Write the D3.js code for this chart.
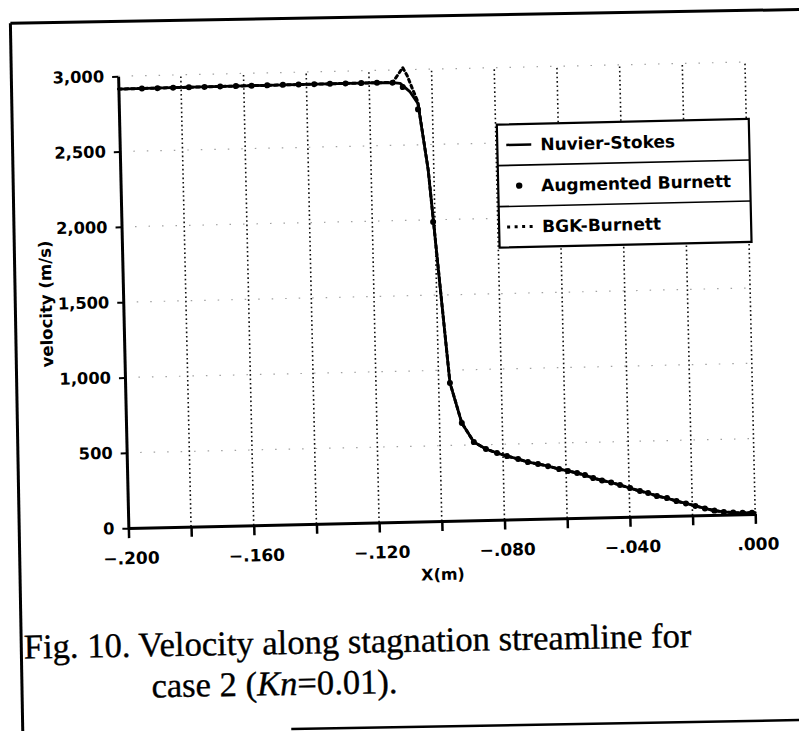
<!DOCTYPE html>
<html>
<head>
<meta charset="utf-8">
<script src="https://cdn.jsdelivr.net/npm/d3@7"></script>
<style>
  html, body { margin: 0; padding: 0; background: #fff; }
  svg { display: block; }
</style>
</head>
<body>
<svg id="chart" width="799" height="731"></svg>
<script>
// ---------------- data ----------------
const xTickValues = [-0.2, -0.18, -0.16, -0.14, -0.12, -0.1, -0.08, -0.06, -0.04, -0.02, 0];
const xTickLabels = ["−.200", "", "−.160", "", "−.120", "", "−.080", "", "−.040", "", ".000"];
const yTickValues = [0, 500, 1000, 1500, 2000, 2500, 3000];
const yTickLabels = ["0", "500", "1,000", "1,500", "2,000", "2,500", "3,000"];

const seriesNames = ["Nuvier-Stokes", "Augmented Burnett", "BGK-Burnett"];
const xLabel = "X(m)";
const yLabel = "velocity (m/s)";
const captionLine1 = "Fig. 10. Velocity along stagnation streamline for";
const captionLine2a = "case 2 (";
const captionLine2b = "Kn";
const captionLine2c = "=0.01).";

// Navier-Stokes (solid line)
const xNS = [-0.2, -0.18, -0.16, -0.14, -0.12, -0.1125, -0.1101, -0.107, -0.1046, -0.1018, -0.0964,
  -0.0929, -0.0892, -0.0854, -0.0819, -0.0787, -0.0752, -0.0721, -0.0689, -0.0657, -0.0622,
  -0.0594, -0.0565, -0.054, -0.0514, -0.0486, -0.0457, -0.0429, -0.0397, -0.0366, -0.034,
  -0.0312, -0.028, -0.025, -0.022, -0.019, -0.016, -0.013, -0.01, -0.007, -0.004, 0];
const vNS = [2915, 2916, 2917, 2918, 2918, 2916, 2910, 2852, 2775, 2332, 915,
  647, 519, 471, 443, 421, 400, 378, 364, 348, 327,
  313, 298, 283, 262, 245, 230, 212, 190, 169, 155,
  133, 118, 97, 80, 62, 44, 28, 18, 12, 9, 8];

// Augmented Burnett (markers)
const xAB = [-0.1925, -0.1875, -0.1825, -0.1775, -0.1725, -0.1675, -0.1625, -0.1575, -0.1525,
  -0.1475, -0.1425, -0.1375, -0.1325, -0.1275, -0.1225, -0.1175, -0.1125,
  -0.1093, -0.1046, -0.1006, -0.0964, -0.0929, -0.0892, -0.0854, -0.0819, -0.0787, -0.0752,
  -0.0721, -0.0689, -0.0657, -0.0622, -0.0594, -0.0565, -0.054, -0.0514, -0.0486, -0.0457,
  -0.0429, -0.0397, -0.0366, -0.034, -0.0312, -0.028, -0.025, -0.022, -0.019, -0.016,
  -0.013, -0.01, -0.007, -0.004, -0.001];
const vAB = [2915, 2915, 2916, 2916, 2916, 2917, 2917, 2917, 2917,
  2918, 2918, 2918, 2918, 2918, 2918, 2918, 2916,
  2885, 2735, 1986, 915, 647, 519, 471, 443, 421, 400,
  378, 364, 348, 327, 313, 298, 283, 262, 245, 230,
  212, 190, 169, 155, 133, 118, 97, 80, 62, 44,
  28, 18, 12, 9, 8];

// BGK-Burnett (dotted line)
const xBGK = [-0.2, -0.18, -0.16, -0.14, -0.12, -0.1125, -0.1105, -0.1092, -0.1078, -0.1062, -0.1046,
  -0.1018, -0.0964, -0.0929, -0.0892, -0.0854, -0.0819, -0.0787, -0.0752, -0.0721, -0.0689,
  -0.0657, -0.0622, -0.0594, -0.0565, -0.054, -0.0514, -0.0486, -0.0457, -0.0429, -0.0397,
  -0.0366, -0.034, -0.0312, -0.028, -0.025, -0.022, -0.019, -0.016, -0.013, -0.01, -0.007, -0.004, 0];
const vBGK = [2915, 2916, 2917, 2918, 2918, 2918, 2975, 3015, 2960, 2870, 2785,
  2335, 918, 647, 519, 471, 443, 421, 400, 378, 364,
  348, 327, 313, 298, 283, 262, 245, 230, 212, 190,
  169, 155, 133, 118, 97, 80, 62, 44, 28, 18, 12, 9, 8];

// ---------------- drawing ----------------
const svg = d3.select("#chart");
const tickFont = "'DejaVu Sans', 'Liberation Sans', sans-serif";

// outer frame + caption (scanned page slightly tilted)
const page = svg.append("g").attr("transform", "rotate(-1.0,400,370)");
page.append("line").attr("x1", 16.5).attr("y1", 16.5).attr("x2", 840).attr("y2", 16.5)
  .attr("stroke", "#000").attr("stroke-width", 3);
page.append("line").attr("x1", 16.5).attr("y1", 16.5).attr("x2", 16.5).attr("y2", 760)
  .attr("stroke", "#000").attr("stroke-width", 3);
page.append("line").attr("x1", 285).attr("y1", 727).attr("x2", 840).attr("y2", 727)
  .attr("stroke", "#000").attr("stroke-width", 2.5);

const capFont = "'Liberation Serif', 'Times New Roman', serif";
page.append("text").attr("x", 19).attr("y", 652)
  .attr("font-family", capFont).attr("font-size", 34.6).attr("fill", "#000")
  .attr("stroke", "#000").attr("stroke-width", 0.35)
  .text(captionLine1);
const cap2 = page.append("text").attr("x", 146).attr("y", 693)
  .attr("font-family", capFont).attr("font-size", 34.6).attr("fill", "#000")
  .attr("stroke", "#000").attr("stroke-width", 0.35);
cap2.append("tspan").text(captionLine2a);
cap2.append("tspan").attr("font-style", "italic").text(captionLine2b);
cap2.append("tspan").text(captionLine2c);

// chart group (tilted like the scan)
const g = svg.append("g").attr("transform", "rotate(-1.3,440,310)");
const x = d3.scaleLinear().domain([-0.2, 0]).range([123.5, 750.5]);
const y = d3.scaleLinear().domain([0, 3000]).range([521, 69]);

// grid: vertical dotted lines
g.append("g").selectAll("line").data(xTickValues.slice(1)).join("line")
  .attr("x1", d => x(d)).attr("x2", d => x(d))
  .attr("y1", y(0)).attr("y2", y(3000))
  .attr("stroke", "#111").attr("stroke-width", 1.6)
  .attr("stroke-dasharray", "1.6,2.8");
// grid: faint horizontal dotted lines
g.append("g").selectAll("line").data(yTickValues.slice(1)).join("line")
  .attr("x1", x(-0.2)).attr("x2", x(0))
  .attr("y1", d => y(d)).attr("y2", d => y(d))
  .attr("stroke", "#444").attr("stroke-width", 1.2).attr("opacity", 0.5)
  .attr("stroke-dasharray", "1.5,12");

const line = d3.line().x(d => x(d[0])).y(d => y(d[1]));

// BGK-Burnett dotted
g.append("path").datum(xBGK.map((d, i) => [d, vBGK[i]]))
  .attr("d", line).attr("fill", "none").attr("stroke", "#000")
  .attr("stroke-width", 3).attr("stroke-dasharray", "3,3.5").attr("stroke-linecap", "round");
// Navier-Stokes solid
g.append("path").datum(xNS.map((d, i) => [d, vNS[i]]))
  .attr("d", line).attr("fill", "none").attr("stroke", "#000")
  .attr("stroke-width", 2.8).attr("stroke-linejoin", "round");
// Augmented Burnett markers
g.append("g").selectAll("circle").data(xAB.map((d, i) => [d, vAB[i]])).join("circle")
  .attr("cx", d => x(d[0])).attr("cy", d => y(d[1])).attr("r", 3)
  .attr("fill", "#000");

// axes
const xAxis = g.append("g").attr("transform", `translate(0,${y(0)})`)
  .call(d3.axisBottom(x).tickValues(xTickValues)
    .tickFormat((d, i) => xTickLabels[i]).tickSize(10).tickSizeOuter(0).tickPadding(14));
xAxis.select(".domain").attr("stroke-width", 3);
xAxis.selectAll(".tick line").attr("stroke-width", 2.5);
xAxis.selectAll(".tick text").attr("font-family", tickFont).attr("font-size", 17)
  .attr("font-weight", "bold").attr("dx", 2).attr("fill", "#000");

const yAxis = g.append("g").attr("transform", `translate(${x(-0.2)},0)`)
  .call(d3.axisLeft(y).tickValues(yTickValues)
    .tickFormat((d, i) => yTickLabels[i]).tickSize(6).tickSizeOuter(0).tickPadding(8));
yAxis.select(".domain").attr("stroke-width", 3);
yAxis.selectAll(".tick line").attr("stroke-width", 2);
yAxis.selectAll(".tick text").attr("font-family", tickFont).attr("font-size", 16.3)
  .attr("font-weight", "bold").attr("fill", "#000");

// axis titles
g.append("text").attr("x", (x(-0.2) + x(0)) / 2).attr("y", 580)
  .attr("text-anchor", "middle").attr("font-family", tickFont)
  .attr("font-size", 16).attr("font-weight", "bold").text(xLabel);
g.append("text")
  .attr("transform", `translate(52,${(y(0) + y(3000)) / 2}) rotate(-90)`)
  .attr("text-anchor", "middle").attr("font-family", tickFont)
  .attr("font-size", 16.5).attr("font-weight", "bold").text(yLabel);

// legend
const lg = g.append("g");
const L = { x0: 501, x1: 753, y0: 126, rowH: 41 };
lg.append("rect").attr("x", L.x0).attr("y", L.y0).attr("width", L.x1 - L.x0)
  .attr("height", L.rowH * 3).attr("fill", "#fff").attr("stroke", "#000").attr("stroke-width", 2.2);
[1, 2].forEach(k => lg.append("line").attr("x1", L.x0).attr("x2", L.x1)
  .attr("y1", L.y0 + k * L.rowH).attr("y2", L.y0 + k * L.rowH)
  .attr("stroke", "#000").attr("stroke-width", 1.6));
const rowY = k => L.y0 + L.rowH * (k + 0.5);
lg.append("line").attr("x1", 510).attr("x2", 535).attr("y1", rowY(0)).attr("y2", rowY(0))
  .attr("stroke", "#000").attr("stroke-width", 2.5);
lg.append("circle").attr("cx", 522).attr("cy", rowY(1)).attr("r", 3.2).attr("fill", "#000");
lg.append("line").attr("x1", 509).attr("x2", 536).attr("y1", rowY(2)).attr("y2", rowY(2))
  .attr("stroke", "#000").attr("stroke-width", 3).attr("stroke-dasharray", "3,4.5");
seriesNames.forEach((s, k) => lg.append("text").attr("x", 544).attr("y", rowY(k))
  .attr("dy", "0.36em").attr("font-family", tickFont).attr("font-size", 17)
  .attr("font-weight", "bold").attr("fill", "#000").text(s));
</script>
</body>
</html>
